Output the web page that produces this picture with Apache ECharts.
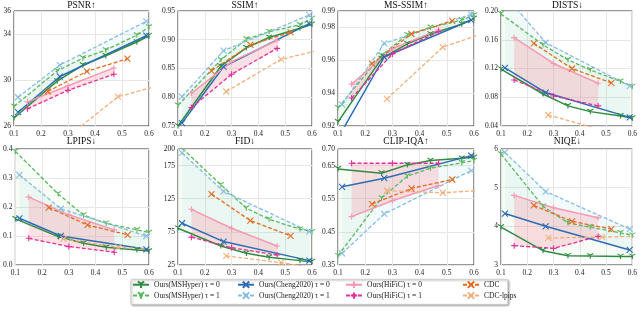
<!DOCTYPE html>
<html>
<head>
<meta charset="utf-8">
<script src="https://cdn.jsdelivr.net/npm/echarts@6/dist/echarts.min.js"></script>
<style>
    html, body {margin: 0; padding: 0; background: #fff;}
    #chart {width: 640px; height: 320px;}
</style>
</head>
<body>
<div id="chart"></div>
<script>
    // bit rates (x) per method
    var xMSHyper = [0.1, 0.26, 0.355, 0.44, 0.555, 0.6];
    var xCheng = [0.115, 0.27, 0.59];
    var xHiFiC = [0.15, 0.3, 0.47];
    var xCDC = [0.225, 0.37, 0.52];
    var xCDCLpips = [0.28, 0.485, 0.7];

    // metric values, rows: MSHyper0, MSHyper1, Cheng0, Cheng1, HiFiC0, HiFiC1, CDC, CDC-lpips
    var psnr = [
        [26.7, 29.9, 31.3, 32.1, 33.3, 33.85],
        [27.7, 30.8, 31.9, 32.6, 33.9, 34.6],
        [27.2, 30.3, 33.85],
        [28.5, 31.3, 35.1],
        [28.1, 29.5, 31.05],
        [27.5, 29.1, 30.5],
        [29.0, 30.75, 31.85],
        [24.7, 28.55, 29.9]
    ];
    var ssim = [
        [0.750, 0.854, 0.886, 0.904, 0.920, 0.927],
        [0.786, 0.865, 0.901, 0.914, 0.926, 0.937],
        [0.755, 0.853, 0.928],
        [0.801, 0.881, 0.943],
        [0.807, 0.862, 0.899],
        [0.782, 0.840, 0.885],
        [0.846, 0.891, 0.913],
        [0.810, 0.866, 0.890]
    ];
    var msssim = [
        [0.9225, 0.961, 0.970, 0.976, 0.982, 0.9855],
        [0.931, 0.963, 0.9755, 0.980, 0.9845, 0.9875],
        [0.917, 0.962, 0.9845],
        [0.933, 0.9703, 0.988],
        [0.9455, 0.967, 0.9785],
        [0.937, 0.9638, 0.9775],
        [0.958, 0.976, 0.984],
        [0.9365, 0.968, 0.980]
    ];
    var dists = [
        [0.119, 0.0845, 0.068, 0.060, 0.054, 0.051],
        [0.196, 0.153, 0.132, 0.118, 0.102, 0.095],
        [0.121, 0.0865, 0.052],
        [0.222, 0.156, 0.0956],
        [0.163, 0.127, 0.0995],
        [0.104, 0.0818, 0.068],
        [0.155, 0.120, 0.100],
        [0.0553, 0.0344, 0.032]
    ];
    var lpips = [
        [0.159, 0.098, 0.075, 0.061, 0.052, 0.048],
        [0.392, 0.245, 0.172, 0.144, 0.121, 0.112],
        [0.161, 0.100, 0.054],
        [0.311, 0.194, 0.100],
        [0.234, 0.173, 0.121],
        [0.092, 0.0635, 0.044],
        [0.198, 0.138, 0.104],
        [0.090, 0.061, 0.050]
    ];
    var fid = [
        [80.5, 53.7, 42.6, 36.6, 31.6, 30],
        [207, 146, 110.7, 94, 79, 75],
        [88, 60.3, 31.6],
        [194, 136, 75.4],
        [109, 80.5, 53.7],
        [67, 51, 40],
        [132, 92, 69],
        [38.6, 28.5, 15]
    ];
    var clipiqa = [
        [0.640, 0.627, 0.652, 0.665, 0.672, 0.675],
        [0.378, 0.552, 0.618, 0.642, 0.658, 0.665],
        [0.586, 0.612, 0.680],
        [0.385, 0.504, 0.635],
        [0.496, 0.544, 0.590],
        [0.657, 0.657, 0.657],
        [0.534, 0.581, 0.608],
        [0.574, 0.568, 0.579]
    ];
    var niqe = [
        [3.98, 3.37, 3.24, 3.23, 3.22, 3.22],
        [5.87, 4.52, 4.09, 3.98, 3.83, 3.77],
        [4.33, 4.00, 3.39],
        [5.91, 4.90, 3.93],
        [4.80, 4.48, 4.22],
        [3.50, 3.43, 3.74],
        [4.54, 4.13, 3.93],
        [3.70, 3.72, 3.755]
    ];

    // panel titles and y axis ticks
    var titles = ['PSNR↑', 'SSIM↑', 'MS-SSIM↑', 'DISTS↓', 'LPIPS↓', 'FID↓', 'CLIP-IQA↑', 'NIQE↓'];
    var yMin = [26, 0.75, 0.92, 0.04, 0, 25, 0.35, 3];
    var yMax = [36, 0.95, 0.99, 0.20, 0.4, 200, 0.70, 6];
    var yStep = [4, 0.05, 0.02, 0.04, 0.1, 50, 0.1, 1];
    var yDigits = [0, 2, 2, 2, 1, 0, 2, 0];
    var xTicks = [0.1, 0.6, 0.1]; // min, max, step

    var metrics = [psnr, ssim, msssim, dists, lpips, fid, clipiqa, niqe];

    var FONT = 'Liberation Serif';
    var SYM_X = 'path://M0,0L10,10M10,0L0,10';
    var SYM_PLUS = 'path://M5,0L5,10M0,5L10,5';
    var SYM_TRI = 'path://M5,5L5,10M5,5L0.67,2.5M5,5L9.33,2.5';

    var methods = [
        {name: 'Ours(MSHyper) τ = 0', x: xMSHyper, color: '#2e8b40', dash: false, sym: SYM_TRI},
        {name: 'Ours(MSHyper) τ = 1', x: xMSHyper, color: '#5cb85e', dash: true, sym: SYM_TRI},
        {name: 'Ours(Cheng2020) τ = 0', x: xCheng, color: '#2c6cb3', dash: false, sym: SYM_X},
        {name: 'Ours(Cheng2020) τ = 1', x: xCheng, color: '#86bde0', dash: true, sym: SYM_X},
        {name: 'Ours(HiFiC) τ = 0', x: xHiFiC, color: '#f59ab2', dash: false, sym: SYM_PLUS},
        {name: 'Ours(HiFiC) τ = 1', x: xHiFiC, color: '#e0309a', dash: true, sym: SYM_PLUS},
        {name: 'CDC', x: xCDC, color: '#e06c1f', dash: true, sym: SYM_X},
        {name: 'CDC-lpips', x: xCDCLpips, color: '#f2b07c', dash: true, sym: SYM_X}
    ];
    // shaded band between tau=0 and tau=1
    var bands = [
        {a: 0, b: 1, color: '#8fd07a', opacity: 0.07},
        {a: 2, b: 3, color: '#7cc8d4', opacity: 0.09},
        {a: 4, b: 5, color: '#ff7088', opacity: 0.22}
    ];

    var lefts = [14, 178, 338, 501];
    var widths = [135, 134, 136, 133];
    var tops = [11, 149];
    var heights = [115, 116];

    var grids = [], xAxes = [], yAxes = [], series = [], titleList = [];

    function bandSeries(i, bd) {
        var xs = methods[bd.a].x;
        var ya = metrics[i][bd.a], yb = metrics[i][bd.b];
        return {
            type: 'custom', name: 'band', xAxisIndex: i, yAxisIndex: i, z: 1, silent: true,
            data: [[xTicks[0], yMin[i]]],
            renderItem: function (params, api) {
                var pts = [];
                for (var k = 0; k < xs.length; k++) pts.push(api.coord([xs[k], ya[k]]));
                for (var k2 = xs.length - 1; k2 >= 0; k2--) pts.push(api.coord([xs[k2], yb[k2]]));
                var cs = params.coordSys;
                return {
                    type: 'polygon', shape: {points: pts},
                    style: {fill: bd.color, opacity: bd.opacity, stroke: null},
                    clipPath: {type: 'rect', shape: {x: cs.x, y: cs.y, width: cs.width, height: cs.height}}
                };
            }
        };
    }

    for (var i = 0; i < 8; i++) {
        var row = Math.floor(i / 4), col = i % 4;
        grids.push({
            left: lefts[col], top: tops[row], width: widths[col], height: heights[row],
            show: true, borderColor: '#333', borderWidth: 1
        });
        titleList.push({
            text: titles[i],
            left: lefts[col] + widths[col] / 2, top: row === 0 ? 0 : 136.5,
            textAlign: 'center', padding: 0,
            textStyle: {fontFamily: FONT, fontSize: 9.5, fontWeight: 'normal', color: '#111'}
        });
        xAxes.push({
            type: 'value', gridIndex: i, min: xTicks[0], max: xTicks[1], interval: xTicks[2],
            axisLine: {show: false}, axisTick: {show: false},
            axisLabel: {fontFamily: FONT, fontSize: 7.5, color: '#222', margin: 4,
                formatter: function (v) { return v.toFixed(1); }},
            splitLine: {show: true, lineStyle: {color: '#e6e6e6', width: 1}}
        });
        yAxes.push({
            type: 'value', gridIndex: i, min: yMin[i], max: yMax[i], interval: yStep[i],
            axisLine: {show: false}, axisTick: {show: false},
            axisLabel: {fontFamily: FONT, fontSize: 7.5, color: '#222', margin: 3,
                formatter: (function (d) { return function (v) { return v.toFixed(d); }; })(yDigits[i])},
            splitLine: {show: true, lineStyle: {color: '#e6e6e6', width: 1}}
        });

        for (var b = 0; b < bands.length; b++) series.push(bandSeries(i, bands[b]));

        methods.forEach(function (m, j) {
            var vals = metrics[i][j];
            series.push({
                type: 'line', name: m.name, xAxisIndex: i, yAxisIndex: i, z: 3,
                data: m.x.map(function (x, k) { return [x, vals[k]]; }),
                symbol: m.sym, symbolSize: 6, symbolKeepAspect: true, showSymbol: true,
                itemStyle: {color: m.color, borderColor: m.color, borderWidth: 1.1},
                lineStyle: {color: m.color, width: m.dash ? 1.3 : 1.5, type: m.dash ? [4, 2] : 'solid'},
                clip: true
            });
        });
    }

    // legend: 4 columns x 2 rows
    var legCols = [132, 237, 345, 462];
    var legData = [
        [methods[0].name, methods[1].name],
        [methods[2].name, methods[3].name],
        [methods[4].name, methods[5].name],
        [methods[6].name, methods[7].name]
    ];
    var legends = legData.map(function (d, c) {
        return {
            orient: 'vertical', left: legCols[c], top: 280.5, padding: 0,
            itemWidth: 16, itemHeight: 8, itemGap: 2.5, data: d,
            textStyle: {fontFamily: FONT, fontSize: 7.5, color: '#222'}
        };
    });

    var chart = echarts.init(document.getElementById('chart'), null, {renderer: 'canvas'});
    chart.setOption({
        animation: false,
        backgroundColor: '#fff',
        title: titleList,
        grid: grids,
        xAxis: xAxes,
        yAxis: yAxes,
        legend: legends,
        graphic: [{
            type: 'rect', left: 130.5, top: 279, z: -1,
            shape: {width: 377, height: 25, r: 1},
            style: {fill: '#fff', stroke: '#c8c8c8', lineWidth: 0.8,
                shadowBlur: 2, shadowOffsetX: 1, shadowOffsetY: 1, shadowColor: 'rgba(0,0,0,0.35)'}
        }],
        series: series
    });
</script>
</body>
</html>
